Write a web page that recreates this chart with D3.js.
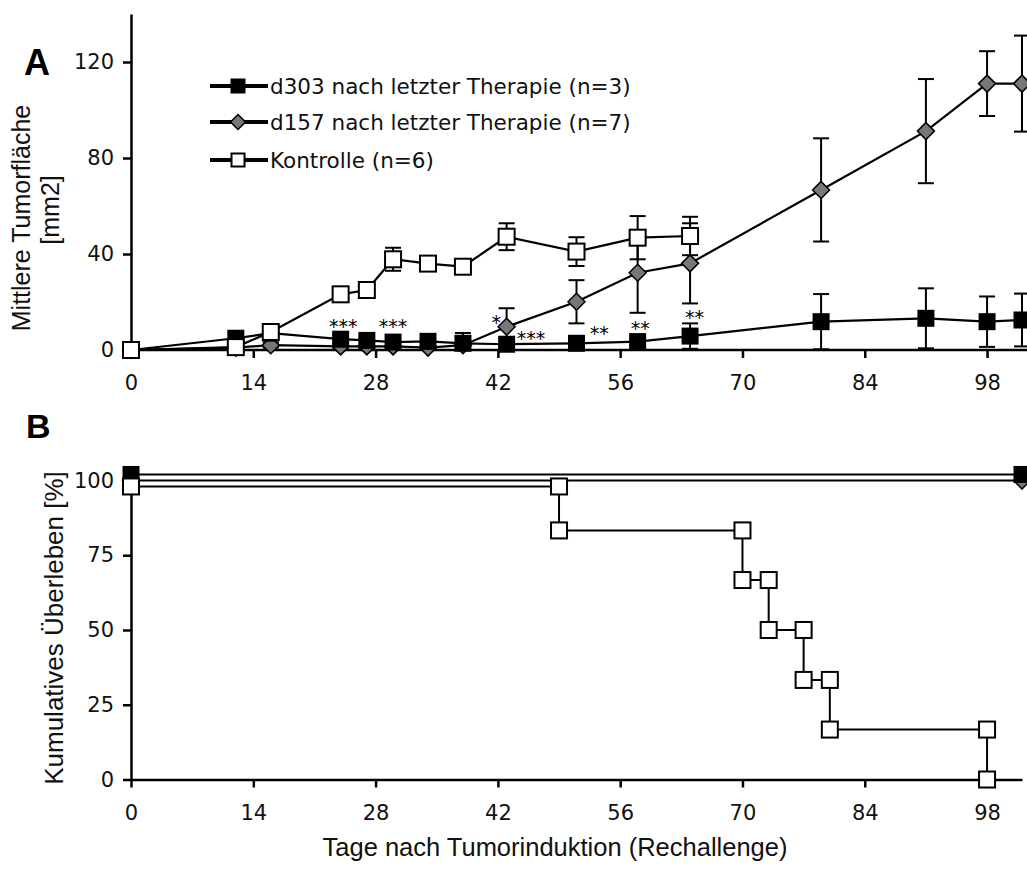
<!DOCTYPE html>
<html>
<head>
<meta charset="utf-8">
<script src="https://cdn.jsdelivr.net/npm/d3@7"></script>
<style>
  html, body { margin: 0; padding: 0; background: #fff; }
  svg { display: block; }
  .num { font-family: "DejaVu Sans", Verdana, sans-serif; }
  .title { font-family: "Liberation Sans", Arial, sans-serif; }
</style>
</head>
<body>
<svg id="chart" width="1027" height="871"></svg>
<script>
// ---- Panel A: mean tumour area (mm2) over days after tumour induction ----
const tumorDays303 = [0, 12, 16, 24, 27, 30, 34, 38, 43, 51, 58, 64, 79, 91, 98, 102];
const tumorMean303 = [0, 4.9, 7, 4.5, 4, 3.3, 3.6, 2.8, 2.4, 2.8, 3.5, 5.8, 11.8, 13.2, 11.8, 12.5];
const tumorErr303  = [0, 1.5, 2, 1.5, 1.2, 1, 1, 4.3, 1.5, 1.5, 1.5, 5.3, 11.5, 12.5, 10.5, 11];

const tumorDays157 = [0, 12, 16, 24, 27, 30, 34, 38, 43, 51, 58, 64, 79, 91, 98, 102];
const tumorMean157 = [0, 1, 2, 1.5, 1.5, 1.5, 1, 2, 9.7, 20.1, 32.2, 36.1, 66.7, 91.2, 111, 111];
const tumorErr157  = [0, 0.5, 1, 1, 0.5, 0.5, 1, 1.5, 7.7, 9, 16.7, 16.7, 21.5, 21.7, 13.5, 20];

const tumorDaysCtrl = [0, 12, 16, 24, 27, 30, 34, 38, 43, 51, 58, 64];
const tumorMeanCtrl = [0, 1.2, 7.5, 23.2, 25, 37.8, 36, 34.7, 47.2, 41, 46.8, 47.5];
const tumorErrCtrl  = [0, 0.8, 2, 1.5, 1.5, 4.8, 2.5, 2.5, 5.6, 6, 9, 8];

// significance marks: day, tumour area level, label
const sigDays   = [24.3, 30, 41.8, 45.8, 53.6, 58.3, 64.5];
const sigLevels = [12, 12, 13.9, 7.1, 9.2, 11.3, 16];
const sigLabels = ["***", "***", "*", "***", "**", "**", "**"];

// ---- Panel B: cumulative survival (%) ----
const survEnd303 = 102;            // all animals alive until end of follow-up
const survEnd157 = 102;
const ctrlDeathDays = [49, 70, 73, 77, 80, 98];
const ctrlSurvival  = [100, 83.3, 66.7, 50, 33.3, 16.7, 0];

const seriesNames = ["d303 nach letzter Therapie (n=3)", "d157 nach letzter Therapie (n=7)", "Kontrolle (n=6)"];
const xTicks  = [0, 14, 28, 42, 56, 70, 84, 98];
const yTicksA = [0, 40, 80, 120];
const yTicksB = [0, 25, 50, 75, 100];

const svg = d3.select("#chart");
const W = 1027;

const x  = d3.scaleLinear().domain([0, 102]).range([131, 1022]);
const yA = d3.scaleLinear().domain([0, 140]).range([350, 14]);
const yB = d3.scaleLinear().domain([0, 104]).range([779.5, 468.5]);

const GRAY = "#777777";

// marker drawing helpers
function marker(g, kind, cx, cy, s) {
  if (kind === "black") {
    g.append("rect").attr("x", cx - s / 2).attr("y", cy - s / 2).attr("width", s).attr("height", s)
      .attr("fill", "#000");
  } else if (kind === "white") {
    g.append("rect").attr("x", cx - s / 2 + 1).attr("y", cy - s / 2 + 1).attr("width", s - 2).attr("height", s - 2)
      .attr("fill", "#fff").attr("stroke", "#000").attr("stroke-width", 2);
  } else {
    const h = s / 2;
    g.append("path").attr("d", `M${cx},${cy - h}L${cx + h},${cy}L${cx},${cy + h}L${cx - h},${cy}Z`)
      .attr("fill", GRAY).attr("stroke", "#000").attr("stroke-width", 1.5);
  }
}

function styleAxis(g, fontSize) {
  g.selectAll("path.domain").attr("stroke", "#000").attr("stroke-width", 2.5);
  g.selectAll(".tick line").attr("stroke", "#000").attr("stroke-width", 2.5);
  g.selectAll(".tick text").attr("class", "num").attr("font-size", fontSize).attr("fill", "#111");
}

// ================= Panel A =================
const gA = svg.append("g");

// axes
const axAy = gA.append("g").attr("transform", `translate(${x(0)},0)`)
  .call(d3.axisLeft(yA).tickValues(yTicksA).tickSize(8).tickSizeOuter(0).tickPadding(9));
styleAxis(axAy, 21);

const axAx = gA.append("g").attr("transform", `translate(0,${yA(0)})`)
  .call(d3.axisBottom(x).tickValues(xTicks).tickSize(8).tickSizeOuter(0).tickPadding(17));
styleAxis(axAx, 21);
axAx.select("path.domain").remove();
gA.append("line").attr("x1", x(0)).attr("x2", W).attr("y1", yA(0)).attr("y2", yA(0))
  .attr("stroke", "#000").attr("stroke-width", 2.5);

function drawSeriesA(days, mean, err, kind, size) {
  const g = gA.append("g");
  // error bars
  days.forEach((d, i) => {
    if (!err[i]) return;
    const cx = x(d), y1 = yA(mean[i] + err[i]), y0 = yA(Math.max(0, mean[i] - err[i]));
    g.append("line").attr("x1", cx).attr("x2", cx).attr("y1", y1).attr("y2", y0)
      .attr("stroke", "#000").attr("stroke-width", 2);
    [y1, y0].forEach(yy => g.append("line").attr("x1", cx - 8).attr("x2", cx + 8).attr("y1", yy).attr("y2", yy)
      .attr("stroke", "#000").attr("stroke-width", 2));
  });
  // connecting line
  const line = d3.line().x((d, i) => x(days[i])).y((d, i) => yA(mean[i]));
  g.append("path").datum(mean).attr("d", line).attr("fill", "none")
    .attr("stroke", "#000").attr("stroke-width", 2.2);
  // markers
  days.forEach((d, i) => marker(g, kind, x(d), yA(mean[i]), size));
}

drawSeriesA(tumorDays157, tumorMean157, tumorErr157, "diamond", 17);
drawSeriesA(tumorDays303, tumorMean303, tumorErr303, "black", 17);
drawSeriesA(tumorDaysCtrl, tumorMeanCtrl, tumorErrCtrl, "white", 18);

// significance marks
sigDays.forEach((d, i) => {
  gA.append("text").attr("class", "num").attr("x", x(d)).attr("y", yA(sigLevels[i]) + 12)
    .attr("text-anchor", "middle").attr("font-size", 19).attr("fill", "#000").text(sigLabels[i]);
});

// legend
const legendKinds = ["black", "diamond", "white"];
const legendRows = [86, 122, 160];
legendKinds.forEach((k, i) => {
  const ly = legendRows[i];
  gA.append("line").attr("x1", 210).attr("x2", 268).attr("y1", ly).attr("y2", ly)
    .attr("stroke", "#000").attr("stroke-width", 4);
  marker(gA, k, 238, ly, 15);
  gA.append("text").attr("class", "num").attr("x", 270).attr("y", ly + 7.5)
    .attr("font-size", 21.5).attr("fill", "#111").text(seriesNames[i]);
});

// panel letter and y title
gA.append("text").attr("class", "title").attr("x", 24).attr("y", 75)
  .attr("font-size", 36).attr("font-weight", "bold").text("A");
gA.append("text").attr("class", "title").attr("transform", "translate(30,218) rotate(-90)")
  .attr("text-anchor", "middle").attr("font-size", 25).attr("fill", "#111").text("Mittlere Tumorfläche");
gA.append("text").attr("class", "title").attr("transform", "translate(59,210) rotate(-90)")
  .attr("text-anchor", "middle").attr("font-size", 25).attr("fill", "#111").text("[mm2]");

// ================= Panel B =================
const gB = svg.append("g");

const axBy = gB.append("g").attr("transform", `translate(${x(0)},0)`)
  .call(d3.axisLeft(yB).tickValues(yTicksB).tickSize(8).tickSizeOuter(0).tickPadding(9));
styleAxis(axBy, 21);

const axBx = gB.append("g").attr("transform", `translate(0,${yB(0)})`)
  .call(d3.axisBottom(x).tickValues(xTicks).tickSize(8).tickSizeOuter(0).tickPadding(18));
styleAxis(axBx, 21);

// overlapping 100 % lines are nudged apart by a few pixels
function drawSurvival(days, surv, kind, nudge, size) {
  const pts = [];
  pts.push([days[0], surv[0]]);
  for (let i = 1; i < days.length; i++) {
    pts.push([days[i], surv[i - 1]]);
    if (surv[i] !== surv[i - 1]) pts.push([days[i], surv[i]]);
  }
  const py = v => yB(v) + (v === 100 ? nudge : 0);
  const g = gB.append("g");
  const line = d3.line().x(p => x(p[0])).y(p => py(p[1]));
  g.append("path").datum(pts).attr("d", line).attr("fill", "none")
    .attr("stroke", "#000").attr("stroke-width", 2);
  pts.forEach(p => marker(g, kind, x(p[0]), py(p[1]), size));
}

drawSurvival([0, survEnd157], [100, 100], "diamond", 0, 17);
drawSurvival([0, survEnd303], [100, 100], "black", -6, 17);
drawSurvival([0].concat(ctrlDeathDays), ctrlSurvival, "white", 6, 18);

gB.append("text").attr("class", "title").attr("x", 26).attr("y", 438)
  .attr("font-size", 34).attr("font-weight", "bold").text("B");
gB.append("text").attr("class", "title").attr("transform", "translate(63,628) rotate(-90)")
  .attr("text-anchor", "middle").attr("font-size", 26).attr("fill", "#111").text("Kumulatives Überleben [%]");

svg.append("text").attr("class", "title").attr("x", 555).attr("y", 856)
  .attr("text-anchor", "middle").attr("font-size", 25.5).attr("fill", "#111")
  .text("Tage nach Tumorinduktion (Rechallenge)");
</script>
</body>
</html>
